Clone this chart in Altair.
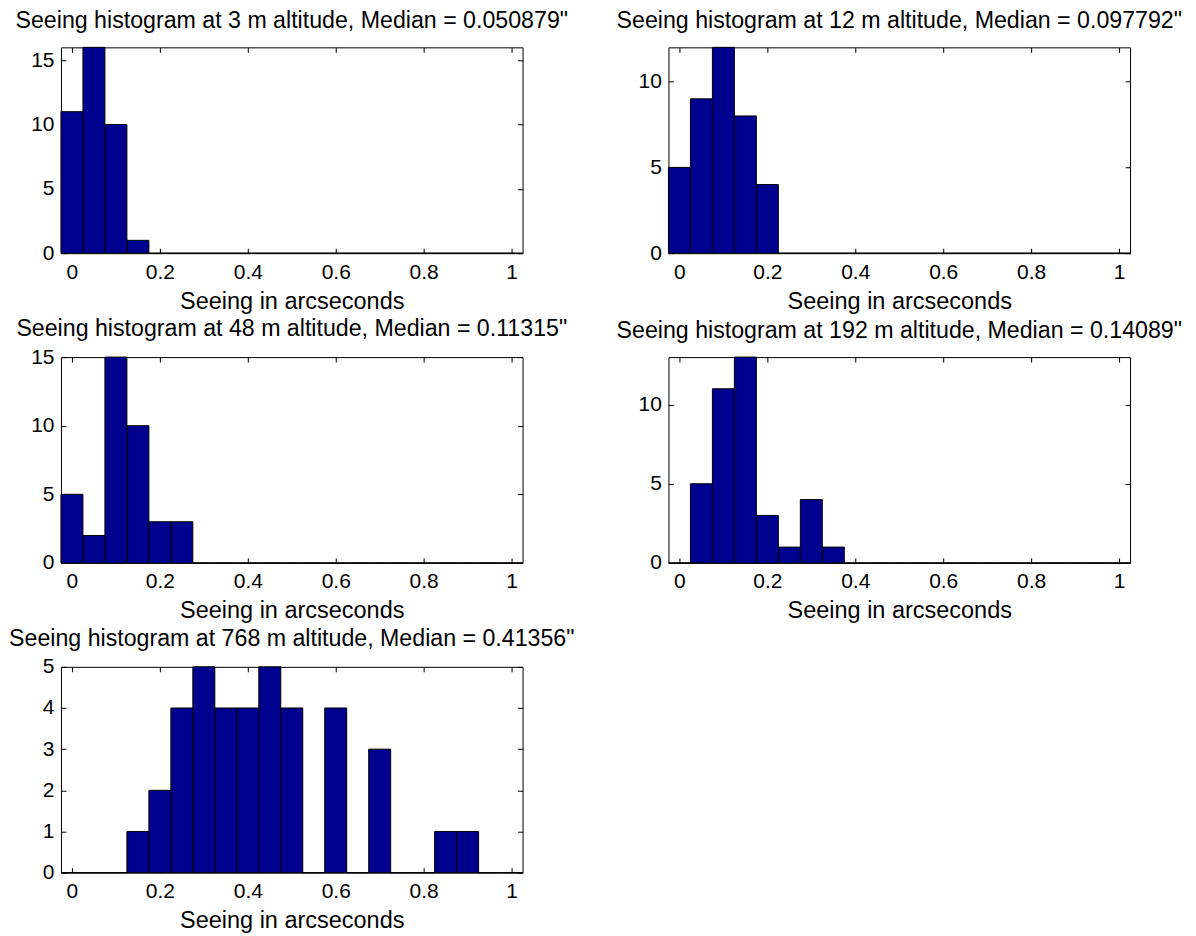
import altair as alt
import pandas as pd

FONT = "Liberation Sans"

BIN_CENTERS = [0.00, 0.05, 0.10, 0.15, 0.20, 0.25, 0.30, 0.35, 0.40, 0.45, 0.50,
               0.55, 0.60, 0.65, 0.70, 0.75, 0.80, 0.85, 0.90, 0.95, 1.00]
BIN_WIDTH = 0.05

COUNTS_3M = [11, 16, 10, 1, 0, 0, 0, 0, 0, 0, 0, 0, 0, 0, 0, 0, 0, 0, 0, 0, 0]
COUNTS_12M = [5, 9, 12, 8, 4, 0, 0, 0, 0, 0, 0, 0, 0, 0, 0, 0, 0, 0, 0, 0, 0]
COUNTS_48M = [5, 2, 15, 10, 3, 3, 0, 0, 0, 0, 0, 0, 0, 0, 0, 0, 0, 0, 0, 0, 0]
COUNTS_192M = [0, 5, 11, 13, 3, 1, 4, 1, 0, 0, 0, 0, 0, 0, 0, 0, 0, 0, 0, 0, 0]
COUNTS_768M = [0, 0, 0, 1, 2, 4, 5, 4, 4, 5, 4, 0, 4, 0, 3, 0, 0, 1, 1, 0, 0]

ALTITUDES = [3, 12, 48, 192, 768]
MEDIANS = ["0.050879", "0.097792", "0.11315", "0.14089", "0.41356"]
Y_MAX = [16, 12, 15, 13, 5]
Y_TICKS = [[0, 5, 10, 15], [0, 5, 10], [0, 5, 10, 15], [0, 5, 10], [0, 1, 2, 3, 4, 5]]
X_TICKS = [0, 0.2, 0.4, 0.6, 0.8, 1]
X_TITLE = "Seeing in arcseconds"

ALL_COUNTS = [COUNTS_3M, COUNTS_12M, COUNTS_48M, COUNTS_192M, COUNTS_768M]

W, H = 462, 206
BAR_COLOR = "#00008F"
INK = "#000000"


def panel(counts, alt_m, median, ymax, yticks):
    df = pd.DataFrame({
        "x0": [c - BIN_WIDTH / 2 for c in BIN_CENTERS],
        "x1": [c + BIN_WIDTH / 2 for c in BIN_CENTERS],
        "count": counts,
    })
    xscale = alt.Scale(domain=[-0.025, 1.025], nice=False, zero=False)
    yscale = alt.Scale(domain=[0, ymax], nice=False, zero=True)
    base = alt.Chart(df)
    bars = base.mark_bar(color=BAR_COLOR, stroke=INK, strokeWidth=1).encode(
        x=alt.X("x0:Q", scale=xscale,
                axis=alt.Axis(orient="bottom", values=X_TICKS, format="~g",
                              offset=-5, tickSize=5, domain=False, grid=False,
                              labelPadding=8, labelFlush=False, labelOverlap=False,
                              title=X_TITLE, titlePadding=7, minExtent=0)),
        x2="x1:Q",
        y=alt.Y("count:Q", scale=yscale,
                axis=alt.Axis(orient="left", values=yticks, offset=-5, tickSize=5,
                              domain=False, grid=False, labelPadding=7, minExtent=0,
                              labelFlush=False, labelOverlap=False, title=None)),
        y2=alt.datum(0),
    )
    ticks = base.mark_bar(opacity=0).encode(
        x=alt.X("x0:Q", scale=xscale,
                axis=alt.Axis(orient="top", values=X_TICKS, offset=-5, tickSize=5,
                              domain=False, grid=False, labels=False, title=None,
                              minExtent=0, maxExtent=0)),
        x2="x1:Q",
        y=alt.Y("count:Q", scale=yscale,
                axis=alt.Axis(orient="right", values=yticks, offset=-5, tickSize=5,
                              domain=False, grid=False, labels=False, title=None,
                              minExtent=0, maxExtent=0)),
        y2=alt.datum(0),
    )
    # the top tick label sticking out above the frame pushes the title up; compensate
    title_offset = -18 if yticks[-1] == ymax else -9.5
    title = f'Seeing histogram at {alt_m} m altitude, Median = {median}"'
    return alt.layer(bars, ticks).resolve_axis(
        x="independent", y="independent"
    ).properties(
        width=W, height=H,
        title=alt.Title(title, frame="group", anchor="middle", baseline="bottom",
                        offset=title_offset),
    )


panels = [panel(c, a, m, ym, yt) for c, a, m, ym, yt in
          zip(ALL_COUNTS, ALTITUDES, MEDIANS, Y_MAX, Y_TICKS)]

chart = alt.concat(
    *panels, columns=2, spacing=alt.RowColnumber(row=104, column=146), bounds="flush"
).properties(
    padding={"left": 0, "top": 0, "right": 5, "bottom": 0},
    background="white",
).configure_view(
    stroke=INK, strokeWidth=1
).configure_axis(
    labelFont=FONT, titleFont=FONT, labelColor=INK, titleColor=INK,
    tickColor=INK, tickWidth=1, labelFontSize=21, titleFontSize=23.5,
    titleFontWeight="normal",
).configure_title(
    font=FONT, fontSize=23.2, fontWeight="normal", color=INK
)

chart.save("out.html", embed_options={"renderer": "svg", "actions": False})
